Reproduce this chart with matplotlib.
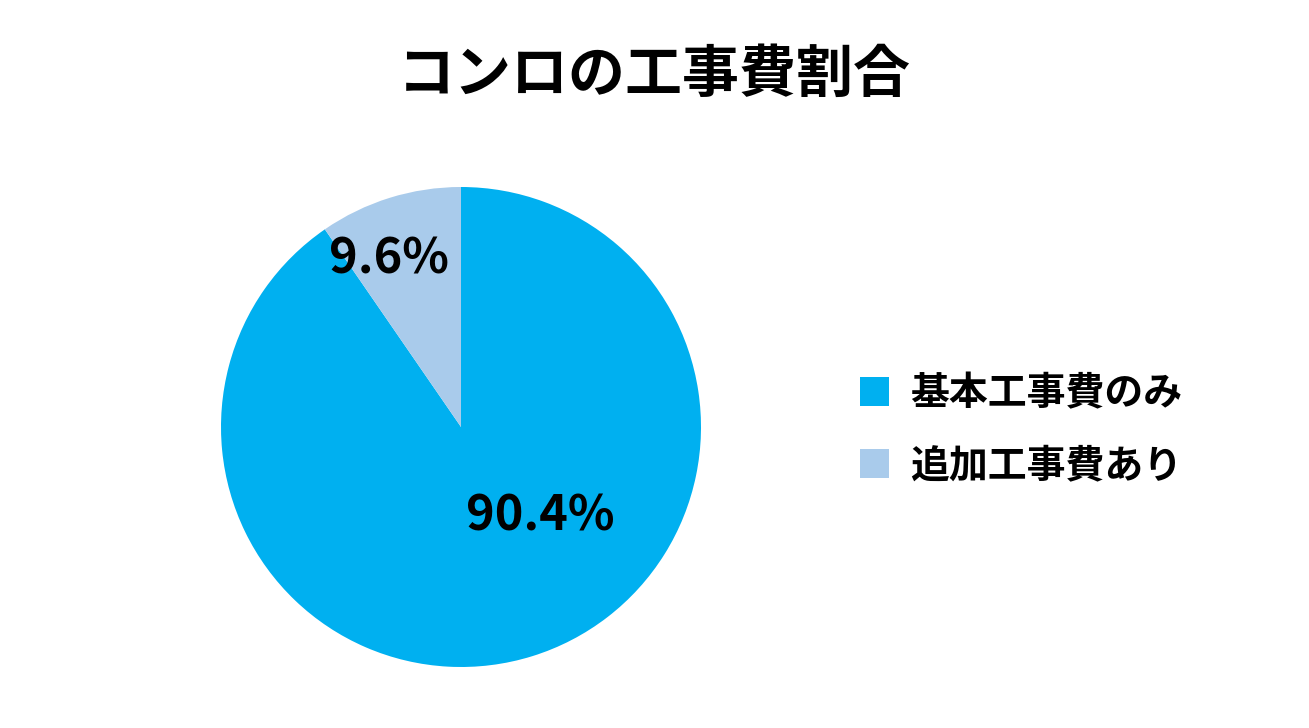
import matplotlib
matplotlib.use("Agg")
import matplotlib.pyplot as plt
from matplotlib.patches import Patch

plt.rcParams['font.family'] = ['Noto Sans CJK JP', 'DejaVu Sans']

labels = ["基本工事費のみ", "追加工事費あり"]
shares = [90.4, 9.6]
colors = ["#00B0F0", "#A9CBEB"]

fig = plt.figure(figsize=(13.09, 7.28), dpi=100)
ax = fig.add_axes([(461 - 240) / 1309, (301 - 240) / 728, 480 / 1309, 480 / 728])

wedges, texts, autotexts = ax.pie(
    shares, colors=colors, startangle=90, counterclock=False,
    autopct=lambda p: f"{p:.1f}%",
    textprops=dict(fontsize=35, fontweight='bold', color='black'),
    wedgeprops=dict(linewidth=0))
# label positions as in the reference
autotexts[0].set_position((0.33, -0.37))
autotexts[1].set_position((-0.30, 0.70))
ax.set_xlim(-1, 1)
ax.set_ylim(-1, 1)
ax.set_aspect('equal')

fig.text(0.5, 0.897, "コンロの工事費割合", ha='center', va='center',
         fontsize=41, fontweight='bold')

handles = [Patch(facecolor=c, edgecolor='none') for c in colors]
fig.legend(handles, labels, loc='center left', bbox_to_anchor=(0.63, 0.41),
           frameon=False, handlelength=0.75, handleheight=0.75,
           handletextpad=0.55, labelspacing=0.85,
           prop=dict(size=28, weight='bold'))

fig.savefig("out.png", dpi=100, facecolor='white')
